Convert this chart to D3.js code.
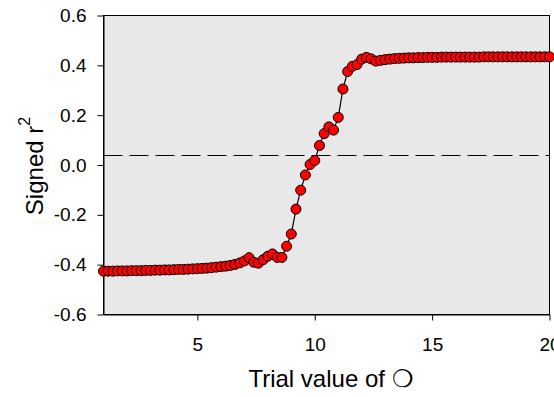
<!DOCTYPE html>
<html>
<head>
<meta charset="utf-8">
<script src="https://cdn.jsdelivr.net/npm/d3@7"></script>
<style>
	body { margin: 0; background: #fff; }
	svg { display: block; }
	text { font-family: "Liberation Sans", Arial, sans-serif; fill: #000; }
</style>
</head>
<body>
<div id="chart-holder"></div>
<script>
// trial values (x) and signed r^2 (y)
const trialValues = [
	1.0, 1.2, 1.4, 1.6, 1.8, 2.0, 2.2, 2.4, 2.6, 2.8,
	3.0, 3.2, 3.4, 3.6, 3.8, 4.0, 4.2, 4.4, 4.6, 4.8,
	5.0, 5.2, 5.4, 5.6, 5.8, 6.0, 6.2, 6.4, 6.6, 6.8,
	7.0, 7.2, 7.4, 7.6, 7.8, 8.0, 8.2, 8.4, 8.6, 8.8,
	9.0, 9.2, 9.4, 9.6, 9.8, 10.0, 10.2, 10.4, 10.6, 10.8,
	11.0, 11.2, 11.4, 11.6, 11.8, 12.0, 12.2, 12.4, 12.6, 12.8,
	13.0, 13.2, 13.4, 13.6, 13.8, 14.0, 14.2, 14.4, 14.6, 14.8,
	15.0, 15.2, 15.4, 15.6, 15.8, 16.0, 16.2, 16.4, 16.6, 16.8,
	17.0, 17.2, 17.4, 17.6, 17.8, 18.0, 18.2, 18.4, 18.6, 18.8,
	19.0, 19.2, 19.4, 19.6, 19.8, 20.0
];
const signedR2 = [
	-0.426, -0.426, -0.426, -0.425, -0.425, -0.425, -0.424, -0.424, -0.424, -0.423,
	-0.423, -0.422, -0.422, -0.421, -0.421, -0.420, -0.419, -0.419, -0.418, -0.417,
	-0.416, -0.415, -0.414, -0.412, -0.410, -0.408, -0.406, -0.403, -0.399, -0.393,
	-0.385, -0.372, -0.390, -0.394, -0.380, -0.366, -0.357, -0.371, -0.371, -0.326,
	-0.277, -0.177, -0.101, -0.040, 0.002, 0.018, 0.078, 0.126, 0.153, 0.140,
	0.191, 0.305, 0.375, 0.396, 0.403, 0.425, 0.432, 0.426, 0.417, 0.420,
	0.423, 0.425, 0.427, 0.428, 0.429, 0.430, 0.430, 0.431, 0.431, 0.432,
	0.432, 0.432, 0.433, 0.433, 0.433, 0.433, 0.433, 0.433, 0.433, 0.433,
	0.433, 0.434, 0.434, 0.434, 0.434, 0.434, 0.434, 0.434, 0.434, 0.434,
	0.434, 0.434, 0.434, 0.434, 0.434, 0.434
];
const xTicks = [5, 10, 15, 20];
const yTicks = [-0.6, -0.4, -0.2, 0.0, 0.2, 0.4, 0.6];
const xDomain = [1, 20];
const yDomain = [-0.6, 0.6];
const dashLevel = 0.04;

const width = 554;
const height = 397;
const plot = {left: 103.5, right: 549.5, top: 15.5, bottom: 314.5};

const svg = d3.select('#chart-holder').append('svg')
	.attr('width', width)
	.attr('height', height);

const xScale = d3.scaleLinear().domain(xDomain).range([plot.left, plot.right]);
const yScale = d3.scaleLinear().domain(yDomain).range([plot.bottom, plot.top]);

// grey plot background
svg.append('rect')
	.attr('x', plot.left)
	.attr('y', plot.top)
	.attr('width', plot.right - plot.left)
	.attr('height', plot.bottom - plot.top)
	.attr('fill', '#e8e8e8');

// dashed reference line (snapped to the pixel grid so it stays crisp)
const dashY = Math.round(yScale(dashLevel)) + 0.5;
svg.append('line')
	.attr('x1', plot.left)
	.attr('x2', plot.right)
	.attr('y1', dashY)
	.attr('y2', dashY)
	.attr('stroke', '#000')
	.attr('stroke-width', 1)
	.attr('stroke-dasharray', '19,7');

// axes
const yAxis = d3.axisLeft(yScale)
	.tickValues(yTicks)
	.tickFormat(d => d.toFixed(1))
	.tickSize(6)
	.tickSizeOuter(0)
	.tickPadding(11);
const yAxisG = svg.append('g')
	.attr('class', 'y-axis')
	.attr('transform', 'translate(' + plot.left + ',0)')
	.call(yAxis);
yAxisG.selectAll('text').style('font-size', '19px');

const xAxis = d3.axisBottom(xScale)
	.tickValues(xTicks)
	.tickFormat(d3.format('d'))
	.tickSize(6)
	.tickSizeOuter(0)
	.tickPadding(17);
const xAxisG = svg.append('g')
	.attr('class', 'x-axis')
	.attr('transform', 'translate(0,' + plot.bottom + ')')
	.call(xAxis);
xAxisG.selectAll('text').style('font-size', '19px');

svg.selectAll('.domain').attr('stroke', '#000');
svg.selectAll('.tick line').attr('stroke', '#000');

// frame
svg.append('rect')
	.attr('x', plot.left)
	.attr('y', plot.top)
	.attr('width', plot.right - plot.left)
	.attr('height', plot.bottom - plot.top)
	.attr('fill', 'none')
	.attr('stroke', '#000')
	.attr('stroke-width', 1);

// series line + markers
const points = trialValues.map((x, i) => ({x: x, y: signedR2[i]}));

svg.append('path')
	.datum(points)
	.attr('fill', 'none')
	.attr('stroke', '#000')
	.attr('stroke-width', 1.2)
	.attr('d', d3.line().x(d => xScale(d.x)).y(d => yScale(d.y)));

svg.append('g').selectAll('circle')
	.data(points)
	.enter().append('circle')
	.attr('cx', d => xScale(d.x))
	.attr('cy', d => yScale(d.y))
	.attr('r', 5)
	.attr('fill', '#ff0000')
	.attr('stroke', '#000')
	.attr('stroke-width', 1);

// axis titles
svg.append('text')
	.attr('x', 331)
	.attr('y', 387)
	.attr('text-anchor', 'middle')
	.style('font-size', '24px')
	.text('Trial value of \u274D');

const yTitle = svg.append('text')
	.attr('transform', 'translate(43,166) rotate(-90)')
	.attr('text-anchor', 'middle')
	.style('font-size', '24px');
yTitle.append('tspan').text('Signed r');
yTitle.append('tspan')
	.attr('dy', '-0.8em')
	.style('font-size', '16px')
	.text('2');
</script>
</body>
</html>
